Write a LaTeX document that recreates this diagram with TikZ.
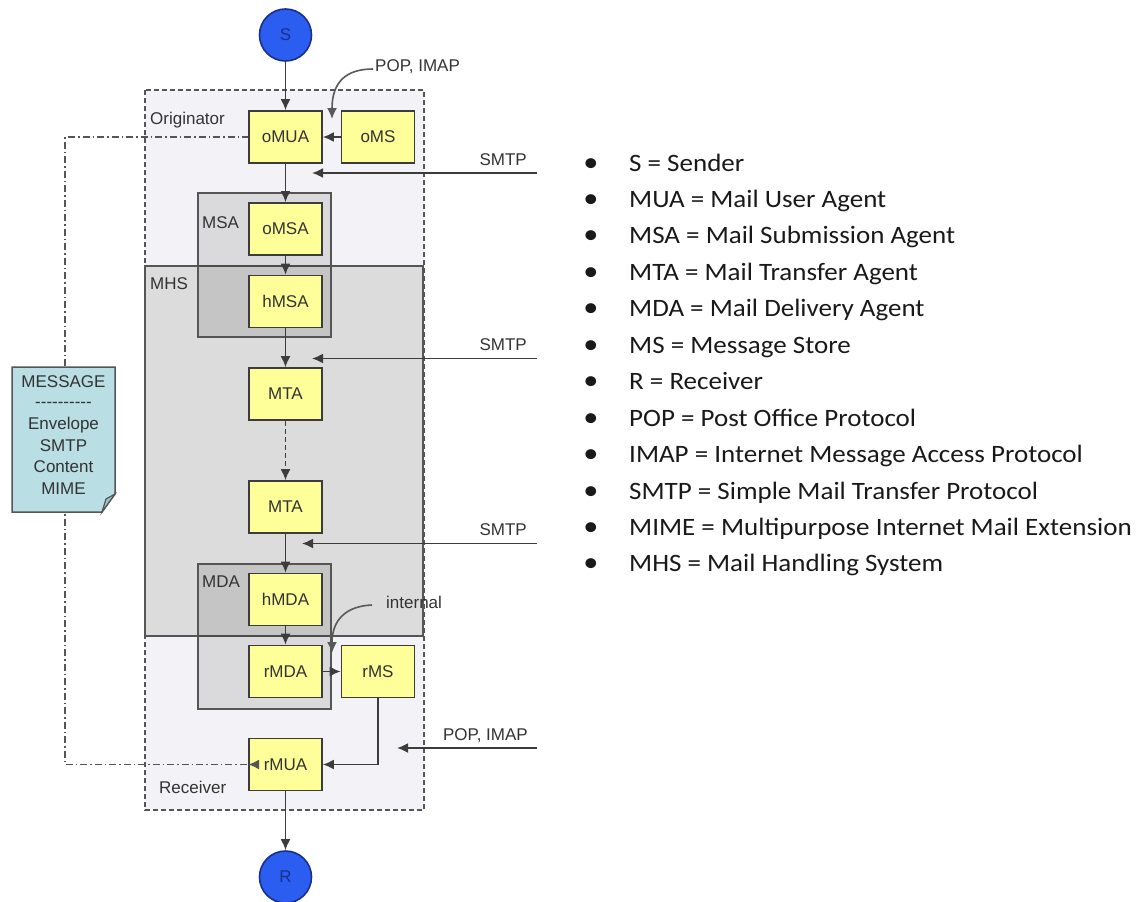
\documentclass[tikz,border=0pt]{standalone}
\usepackage{fontspec}
\setmainfont{Liberation Sans}
\newfontfamily\legendfont{Carlito}[FakeStretch=1.08]
\usetikzlibrary{arrows.meta,calc}
\definecolor{boxyellow}{HTML}{FFFF99}
\definecolor{boxedge}{HTML}{3C3C3C}
\definecolor{outerfill}{HTML}{F3F3F7}
\definecolor{mhsfill}{HTML}{DCDCDC}
\definecolor{groupedge}{HTML}{555555}
\definecolor{circblue}{HTML}{2B5EF0}
\definecolor{circedge}{HTML}{1A2F8A}
\definecolor{notefill}{HTML}{B9DEE4}
\definecolor{notefold}{HTML}{9CC3CA}
\definecolor{txt}{HTML}{333333}
\def\hy{-\kern0pt}
\begin{document}
\begin{tikzpicture}[x=1pt,y=-1pt,
  agent/.style={draw=boxedge, line width=1.6pt, fill=boxyellow, minimum width=73pt, minimum height=52pt, inner sep=0pt, font=\fontsize{17}{20}\selectfont, text=txt},
  endpoint/.style={circle, draw=circedge, line width=1.6pt, fill=circblue, minimum size=52pt, inner sep=0pt, font=\fontsize{17}{20}\selectfont, text=circedge},
  flow/.style={line width=1.8pt, draw=boxedge, -{Latex[length=11pt,width=10pt]}},
  curveflow/.style={line width=1.6pt, draw=boxedge!85, -{Latex[length=11pt,width=10pt]}},
  lbl/.style={font=\fontsize{17}{20}\selectfont, text=txt, inner sep=0pt},
  legend/.style={font=\legendfont\fontsize{25}{30}\selectfont, text=black!90, inner sep=0pt},
  groupbox/.style={line width=1.6pt, draw=groupedge},
]
\useasboundingbox (0,0) rectangle (1141,902);
% containers
\draw[groupbox, line width=1.5pt, fill=outerfill, dash pattern=on 5pt off 3pt] (145,90) rectangle (424,810);
\draw[groupbox, fill=mhsfill] (145,266) rectangle (423,636);
\draw[groupbox, fill=black, fill opacity=0.1] (198,193) rectangle (331,337);
\draw[groupbox, fill=black, fill opacity=0.1] (198,564) rectangle (331,709);
% container labels
\node[lbl, anchor=west] (origlbl) at (150,120) {Originator};
\node[lbl, anchor=west] (msalbl) at (202,223) {MSA};
\node[lbl, anchor=west] (mhslbl) at (150,284) {MHS};
\node[lbl, anchor=west] (mdalbl) at (202,582) {MDA};
\node[lbl, anchor=west] (recvlbl) at (159,787) {Receiver};
% message note
\coordinate (msgx) at (65,0);
\draw[line width=1.5pt, draw=groupedge, dash pattern=on 7pt off 3pt on 1.5pt off 3pt]
  (249,137) -- (msgx |- 0,137) -- (msgx |- 0,764.5) -- (249,764.5);
\draw[line width=1.5pt, draw=groupedge, fill=notefill] (12,367) -- (115,367) -- (115,494) -- (102,512) -- (12,512) -- cycle;
\draw[line width=1.2pt, draw=groupedge, fill=notefold] (115,494) -- (106,499) -- (102,512) -- cycle;
\node[lbl, align=center, font=\fontsize{17}{21.7}\selectfont] (msg) at (63.5,435) {MESSAGE\\[-1pt]\hy\hy\hy\hy\hy\hy\hy\hy\hy\hy\\Envelope\\SMTP\\Content\\MIME};
% nodes
\node[endpoint] (S) at (285.5,35) {S};
\node[agent] (oMUA) at (285.5,137) {oMUA};
\node[agent] (oMS) at (378,137) {oMS};
\node[agent] (oMSA) at (285.5,229) {oMSA};
\node[agent] (hMSA) at (285.5,301.5) {hMSA};
\node[agent] (MTA1) at (285.5,394) {MTA};
\node[agent] (MTA2) at (285.5,507) {MTA};
\node[agent] (hMDA) at (285.5,599.5) {hMDA};
\node[agent] (rMDA) at (285.5,671.5) {rMDA};
\node[agent] (rMS) at (378,671.5) {rMS};
\node[agent] (rMUA) at (285.5,764.5) {rMUA};
\node[endpoint] (R) at (285.5,877) {R};
% arrowhead of the message line
\draw[line width=1.5pt, draw=groupedge, -{Latex[length=11pt,width=10pt]}] (255,764.5) -- (rMUA.west);
% main flow
\draw[flow] (S) -- (oMUA);
\draw[flow] (oMS) -- (oMUA);
\draw[flow] (oMUA) -- (oMSA);
\draw[flow] (oMSA) -- (hMSA);
\draw[flow] (hMSA) -- (MTA1);
\draw[flow, dash pattern=on 5pt off 3pt] (MTA1) -- (MTA2);
\draw[flow] (MTA2) -- (hMDA);
\draw[flow] (hMDA) -- (rMDA);
\draw[flow] (rMDA) -- (rMS);
\draw[flow] (rMS.south) |- (rMUA.east);
\draw[flow] (rMUA) -- (R);
% protocol arrows
\coordinate (smtpAs) at (537,173);
\coordinate (smtpAe) at (312,173);
\coordinate (smtpBs) at (537,358.5);
\coordinate (smtpBe) at (312,358.5);
\coordinate (smtpCs) at (537,543.5);
\coordinate (smtpCe) at (302,543.5);
\coordinate (popBs) at (537,748);
\coordinate (popBe) at (397,748);
\draw[flow] (smtpAs) -- (smtpAe);
\draw[flow] (smtpBs) -- (smtpBe);
\draw[flow] (smtpCs) -- (smtpCe);
\draw[flow] (popBs) -- (popBe);
\node[lbl, anchor=east] (smtpA) at (527,160) {SMTP};
\node[lbl, anchor=east] (smtpB) at (527,345) {SMTP};
\node[lbl, anchor=east] (smtpC) at (527,530) {SMTP};
\node[lbl, anchor=east] (popB) at (528,736) {POP, IMAP};
% curved labels
\node[lbl, anchor=west] (popT) at (375,67) {POP, IMAP};
\node[lbl, anchor=west] (intl) at (386,602) {internal};
\coordinate (popTs) at (373,69);
\coordinate (popTe) at (332,119);
\coordinate (intls) at (372,605);
\coordinate (intle) at (332,653);
\draw[curveflow] (popTs) .. controls (346,69) and (332,82) .. (popTe);
\draw[curveflow] (intls) .. controls (346,606) and (332,620) .. (intle);
% legend
\foreach \i/\t in {0/S = Sender, 1/MUA = Mail User Agent, 2/MSA = Mail Submission Agent, 3/MTA = Mail Transfer Agent, 4/MDA = Mail Delivery Agent, 5/MS = Message Store, 6/R = Receiver, 7/POP = Post Office Protocol, 8/IMAP = Internet Message Access Protocol, 9/SMTP = Simple Mail Transfer Protocol, 10/MIME = Multipurpose Internet Mail Extension, 11/MHS = Mail Handling System}{
  \node[legend, anchor=base] (b\i) at (591,171+36.45*\i) {\fontsize{28}{30}\selectfont •};
  \node[legend, anchor=base west] (l\i) at (629,171+36.45*\i) {\t};
}
\end{tikzpicture}
\end{document}
